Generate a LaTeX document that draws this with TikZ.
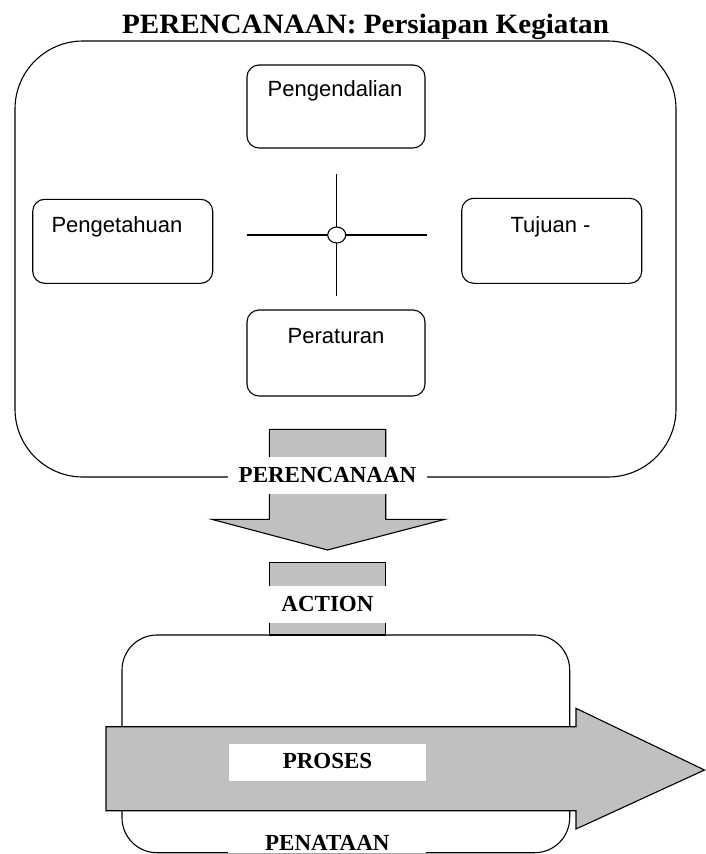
\documentclass[tikz,border=0pt]{standalone}
\usepackage{fontspec}
\setmainfont{Liberation Serif}
\newfontfamily\boxfont{Liberation Sans}
\usetikzlibrary{shapes.geometric}
\definecolor{arrowgray}{RGB}{192,192,192}
\begin{document}
\begin{tikzpicture}[x=1pt,y=-1pt,line width=1.1pt,
  inbox/.style={draw,rounded corners=12pt,minimum width=180pt,minimum height=85pt,inner sep=0pt},
  intext/.style={anchor=base,inner sep=0pt,font=\boxfont\fontsize{22}{24}\selectfont},
  whitelbl/.style={fill=white,draw=none,inner sep=0pt,font=\bfseries\fontsize{23}{25}\selectfont},
  grayarrow/.style={draw,fill=arrowgray,line join=miter}]
\useasboundingbox (0,0) rectangle (705,854);

% title
\node[anchor=base,inner sep=0pt,font=\bfseries\fontsize{28}{30}\selectfont] (title) at (365.5,33) {\scalebox{1.04}[1]{PERENCANAAN: Persiapan Kegiatan}};

% big box
\node[draw,rounded corners=68pt,minimum width=661pt,minimum height=436pt,inner sep=0pt] (plan) at (345.5,259) {};

% inner boxes
\node[inbox,minimum width=178pt,minimum height=83pt] (kendali) at (336,106.5) {};
\node[intext] (tkendali) at (335,96.7) {Pengendalian};
\node[inbox,minimum height=84pt] (tahu) at (122.7,241.3) {};
\node[intext] (ttahu) at (117,232.3) {Pengetahuan};
\node[inbox,minimum height=85pt] (tujuan) at (551.7,240.8) {};
\node[intext] (ttujuan) at (550.5,232.3) {Tujuan -};
\node[inbox,minimum width=178pt,minimum height=86pt] (atur) at (336,353) {};
\node[intext] (tatur) at (336,343) {Peraturan};

% cross
\coordinate (cl) at (246.7,235);
\coordinate (cr) at (426.7,235);
\coordinate (ct) at (336.7,174);
\coordinate (cb) at (336.7,296);
\draw (cl) -- (cr);
\draw (ct) -- (cb);
\node[draw,fill=white,ellipse,minimum width=18pt,minimum height=16pt,inner sep=0pt] (hub) at (336.7,235) {};

% down arrow
\draw[grayarrow] (269.3,429.3) -- (385.7,429.3) -- (385.7,519.3) -- (445,519.3) -- (327.5,550) -- (211.7,519.3) -- (269.3,519.3) -- cycle;
\node[whitelbl,minimum width=198.4pt,minimum height=37pt] (lplan) at (327.5,475.5) {\raisebox{1.5pt}{PERENCANAAN}};

% action stub
\draw[grayarrow] (269.3,635) -- (269.3,562.7) -- (385.7,562.7) -- (385.7,635) -- cycle;
\node[whitelbl,minimum width=130pt,minimum height=36.7pt] (laction) at (327.5,604.3) {\raisebox{1.5pt}{ACTION}};

% lower box
\node[draw,rounded corners=35pt,minimum width=447.7pt,minimum height=217.7pt,inner sep=0pt] (tata) at (345.85,743.85) {};

% process arrow
\draw[grayarrow] (106,726.7) -- (576,726.7) -- (576,708.3) -- (704.5,770) -- (576,829) -- (576,810.7) -- (106,810.7) -- cycle;
\node[whitelbl,minimum width=197pt,minimum height=36.7pt] (lproses) at (327.5,762.3) {\raisebox{2pt}{PROSES}};

% bottom label
\node[whitelbl,minimum width=198pt,minimum height=19pt] (ltata) at (327.3,843) {PENATAAN};
\end{tikzpicture}
\end{document}
